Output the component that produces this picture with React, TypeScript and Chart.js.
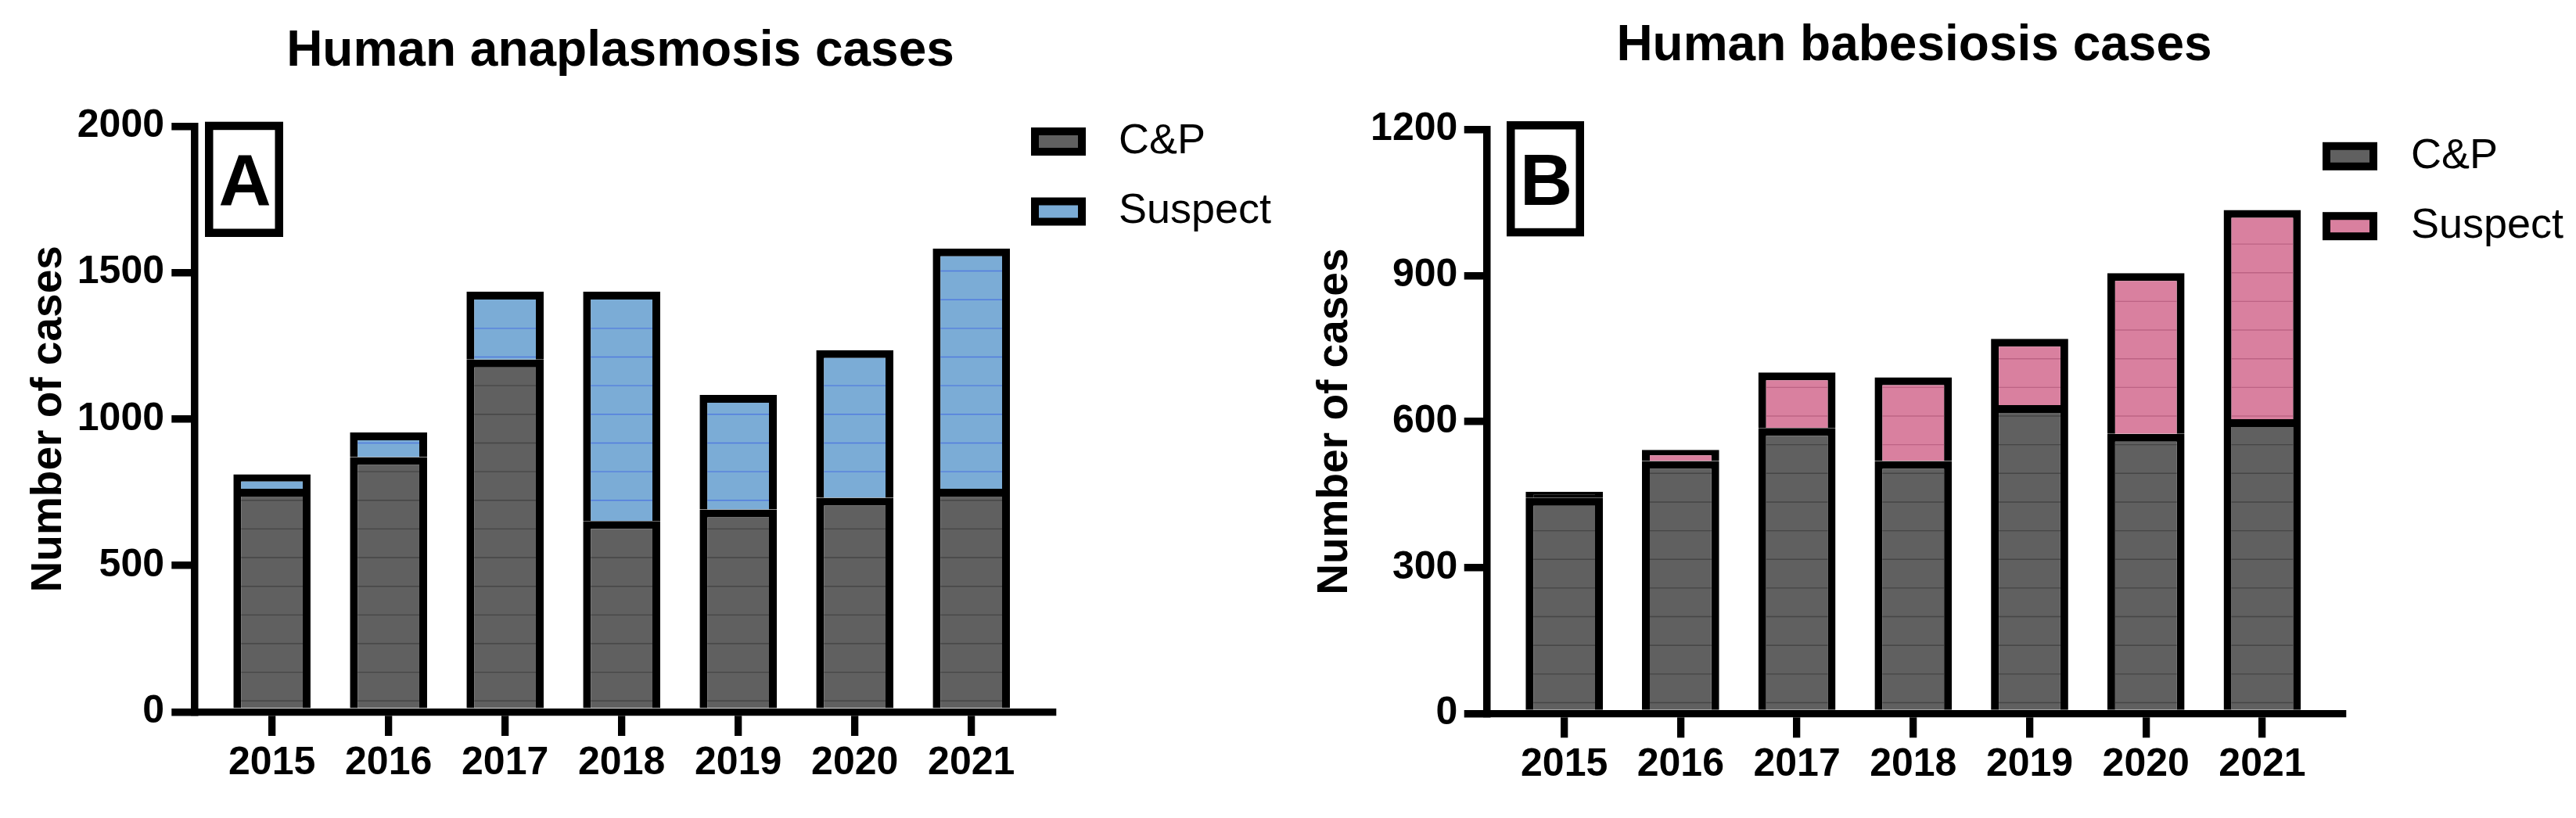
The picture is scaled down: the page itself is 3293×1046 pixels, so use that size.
import React, { useEffect, useRef } from "react";
import { Chart, registerables } from "chart.js";

Chart.register(...registerables);

// ---------- data ----------
const years = ["2015", "2016", "2017", "2018", "2019", "2020", "2021"];
const seriesNames = ["C&P", "Suspect"];

const anaplasmosisCP = [762, 870, 1203, 652, 691, 731, 762];
const anaplasmosisSuspect = [49, 84, 232, 783, 391, 504, 820];
const anaplasmosisYTicks = [0, 500, 1000, 1500, 2000];

const babesiosisCP = [443, 519, 587, 519, 634, 575, 605];
const babesiosisSuspect = [13, 23, 114, 172, 136, 330, 430];
const babesiosisYTicks = [0, 300, 600, 900, 1200];

// ---------- style ----------
const FONT = '"Liberation Sans", Arial, Helvetica, sans-serif';
const CP_COLOR = "#606060";
const BLUE = "#7bacd6";
const PINK = "#d9809f";
const BORDER_W = 10;

const texturePlugin = {
  id: "barTexture",
  afterDatasetsDraw(chart: any, _args: any, opts: any) {
    const { ctx, chartArea } = chart;
    chart.data.datasets.forEach((_ds: any, di: number) => {
      const meta = chart.getDatasetMeta(di);
      const lineColor = opts.lineColors[di];
      meta.data.forEach((el: any) => {
        const { x, y, base, width } = el.getProps(["x", "y", "base", "width"], true);
        const top = Math.min(y, base);
        const bottom = Math.max(y, base);
        const h = bottom - top;
        if (h < BORDER_W) return;
        const bt = Math.min(BORDER_W, h / 2);
        const innerTop = top + bt;
        const left = x - width / 2 + BORDER_W;
        const right = x + width / 2 - BORDER_W;
        ctx.save();
        ctx.strokeStyle = lineColor;
        ctx.lineWidth = 1.4;
        for (let ly = chartArea.bottom - opts.firstOffset; ly > innerTop + 1; ly -= opts.spacing) {
          if (ly < bottom - 1) {
            ctx.beginPath();
            ctx.moveTo(left, ly);
            ctx.lineTo(right, ly);
            ctx.stroke();
          }
        }
        ctx.restore();
      });
    });
  },
};

const decorPlugin = {
  id: "decor",
  afterDraw(chart: any, _args: any, o: any) {
    const { ctx } = chart;
    ctx.save();
    // title
    ctx.fillStyle = "#000";
    ctx.font = `bold 64px ${FONT}`;
    ctx.textAlign = "center";
    ctx.textBaseline = "alphabetic";
    ctx.fillText(o.title, o.titleX, o.titleY);

    // panel letter box
    const b = o.letterBox;
    ctx.strokeStyle = "#000";
    ctx.lineWidth = 10.5;
    ctx.strokeRect(b.l + 5.25, b.t + 5.25, b.w - 10.5, b.h - 10.5);
    ctx.font = `bold 93px ${FONT}`;
    ctx.textAlign = "center";
    ctx.fillText(o.letter, b.l + b.w / 2 + 1, o.letterBaseline);

    // legend
    const lg = o.legend;
    const fills = o.legendFills;
    chart.data.datasets.forEach((ds: any, i: number) => {
      const yc = lg.y[i];
      ctx.fillStyle = "#000";
      ctx.fillRect(lg.boxX, yc - 18, 70, 36);
      ctx.fillStyle = fills[i];
      ctx.fillRect(lg.boxX + 10, yc - 8, 50, 16);
      ctx.fillStyle = "#000";
      ctx.font = `54px ${FONT}`;
      ctx.textAlign = "left";
      ctx.textBaseline = "middle";
      ctx.fillText(ds.label, lg.textX, yc);
    });
    ctx.restore();
  },
};

type PanelParams = {
  cp: number[];
  suspect: number[];
  suspectColor: string;
  suspectLine: string;
  yMax: number;
  yTicks: number[];
  xMin: number;
  xMax: number;
  barPct: number;
  padding: { left: number; right: number; top: number; bottom: number };
  yWidth: number;
  xHeight: number;
  yTickLen: number;
  yTickPad: number;
  xTickLen: number;
  xTickPad: number;
  decor: any;
};

// a segment thinner than its own top border shows only as border
function fillFor(color: string) {
  return (c: any) => {
    const ys = c.chart.scales?.y;
    if (!ys || c.parsed == null || c.raw == null) return color;
    const hPx = Math.abs(ys.getPixelForValue(0) - ys.getPixelForValue(c.raw));
    return hPx < BORDER_W ? "#000" : color;
  };
}

function makeConfig(p: PanelParams): any {
  return {
    type: "bar",
    data: {
      labels: years.map((_, i) => i),
      datasets: [
        {
          label: seriesNames[0],
          data: p.cp,
          backgroundColor: CP_COLOR,
          borderColor: "#000",
          borderWidth: BORDER_W,
          borderSkipped: "start",
          stack: "s",
          barPercentage: p.barPct,
          categoryPercentage: 1,
        },
        {
          label: seriesNames[1],
          data: p.suspect,
          backgroundColor: fillFor(p.suspectColor),
          borderColor: "#000",
          borderWidth: BORDER_W,
          borderSkipped: "start",
          stack: "s",
          barPercentage: p.barPct,
          categoryPercentage: 1,
        },
      ],
    },
    options: {
      responsive: false,
      animation: false,
      events: [],
      layout: { padding: p.padding },
      scales: {
        x: {
          type: "linear",
          stacked: true,
          min: p.xMin,
          max: p.xMax,
          offset: false,
          z: 1,
          afterBuildTicks: (s: any) => {
            s.ticks = years.map((_, i) => ({ value: i }));
          },
          afterFit: (s: any) => {
            s.height = p.xHeight;
          },
          ticks: {
            autoSkip: false,
            maxRotation: 0,
            padding: p.xTickPad,
            color: "#000",
            font: { family: FONT, size: 50, weight: "bold" },
            callback: (v: any) => years[v] ?? "",
          },
          grid: {
            offset: false,
            drawOnChartArea: false,
            drawTicks: true,
            tickLength: p.xTickLen,
            tickWidth: 9.3,
            tickColor: "#000",
            lineWidth: 9.3,
            color: "#000",
          },
          border: { display: true, width: 9.3, color: "#000" },
        },
        y: {
          type: "linear",
          stacked: true,
          min: 0,
          max: p.yMax,
          z: 1,
          afterBuildTicks: (s: any) => {
            s.ticks = p.yTicks.map((v) => ({ value: v }));
          },
          afterFit: (s: any) => {
            s.width = p.yWidth;
          },
          ticks: {
            padding: p.yTickPad,
            color: "#000",
            font: { family: FONT, size: 50, weight: "bold" },
            callback: (v: any) => String(v),
          },
          grid: {
            drawOnChartArea: false,
            drawTicks: true,
            tickLength: p.yTickLen,
            tickWidth: 9.5,
            tickColor: "#000",
            lineWidth: 9.5,
            color: "#000",
          },
          border: { display: true, width: 9.5, color: "#000" },
          title: {
            display: true,
            text: "Number of cases",
            color: "#000",
            padding: 0,
            font: { family: FONT, size: 55, weight: "bold" },
          },
        },
      },
      plugins: {
        legend: { display: false },
        tooltip: { enabled: false },
        title: { display: false },
        barTexture: {
          lineColors: ["rgba(50,50,50,0.55)", p.suspectLine],
          firstOffset: 14,
          spacing: 36.65,
        },
        decor: { ...p.decor, legendFills: [CP_COLOR, p.suspectColor] },
      },
    },
    plugins: [texturePlugin, decorPlugin],
  };
}

function Panel(props: { left: number; width: number; params: PanelParams }) {
  const ref = useRef<HTMLCanvasElement | null>(null);
  useEffect(() => {
    if (!ref.current) return;
    const chart = new Chart(ref.current, makeConfig(props.params));
    return () => chart.destroy();
  }, []);
  return (
    <canvas
      ref={ref}
      width={props.width}
      height={1046}
      style={{ position: "absolute", left: props.left, top: 0, width: props.width, height: 1046 }}
    />
  );
}

const panelA: PanelParams = {
  cp: anaplasmosisCP,
  suspect: anaplasmosisSuspect,
  suspectColor: BLUE,
  suspectLine: "rgba(70,110,225,0.75)",
  yMax: 2000,
  yTicks: anaplasmosisYTicks,
  xMin: -0.662,
  xMax: 6.698,
  barPct: 0.662,
  padding: { left: 30, right: 304.3, top: 161.3, bottom: 0 },
  yWidth: 219,
  xHeight: 135.7,
  yTickLen: 29.7,
  yTickPad: 9.3,
  xTickLen: 30.7,
  xTickPad: 5.5,
  decor: {
    title: "Human anaplasmosis cases",
    titleX: 793,
    titleY: 83.5,
    letter: "A",
    letterBox: { l: 262, t: 155.7, w: 100, h: 147.3 },
    letterBaseline: 261.7,
    legend: { boxX: 1318, y: [181, 270.5], textX: 1430 },
  },
};

const panelB: PanelParams = {
  cp: babesiosisCP,
  suspect: babesiosisSuspect,
  suspectColor: PINK,
  suspectLine: "rgba(170,80,115,0.6)",
  yMax: 1200,
  yTicks: babesiosisYTicks,
  xMin: -0.668,
  xMax: 6.693,
  barPct: 0.664,
  padding: { left: 23.8, right: 298, top: 165.7, bottom: 0 },
  yWidth: 226.5,
  xHeight: 133.5,
  yTickLen: 28.6,
  yTickPad: 8.4,
  xTickLen: 30.8,
  xTickPad: 5,
  decor: {
    title: "Human babesiosis cases",
    titleX: 797,
    titleY: 76.8,
    letter: "B",
    letterBox: { l: 276, t: 155, w: 99, h: 147.3 },
    letterBaseline: 261.7,
    legend: { boxX: 1319, y: [199.8, 289.2], textX: 1432 },
  },
};

export default function App() {
  return (
    <div style={{ position: "absolute", left: 0, top: 0, width: 3293, height: 1046, background: "#fff", overflow: "hidden" }}>
      <Panel left={0} width={1650} params={panelA} />
      <Panel left={1650} width={1643} params={panelB} />
    </div>
  );
}
